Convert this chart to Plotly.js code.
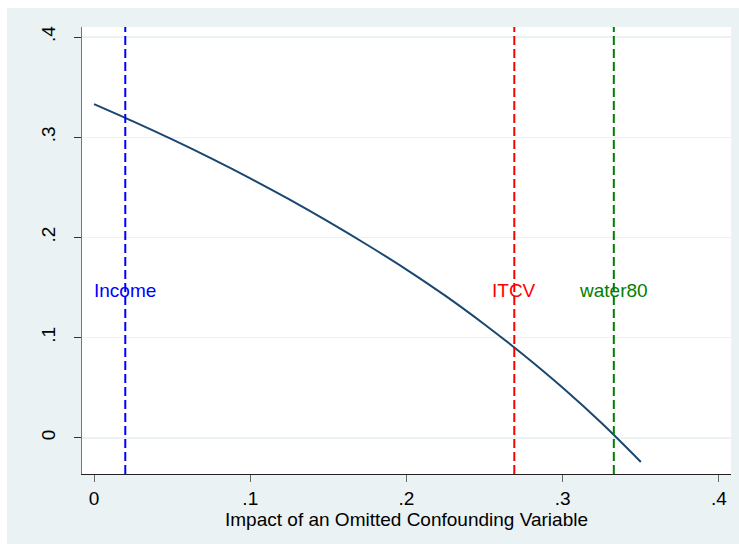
<!DOCTYPE html>
<html>
<head>
<meta charset="utf-8">
<script src="https://cdn.plot.ly/plotly-3.0.1.min.js"></script>
<style>
  html, body { margin: 0; padding: 0; background: #ffffff; }
  #chart { position: absolute; left: 7px; top: 8px; width: 732px; height: 536px; }
</style>
</head>
<body>
<div id="chart"></div>
<script>
// Curve: impact of an omitted confounding variable (x) vs. resulting value (y)
const curveX = [0, 0.025, 0.05, 0.075, 0.1, 0.125, 0.15, 0.175, 0.2, 0.225, 0.25, 0.275, 0.3, 0.325, 0.35];
const curveY = [0.333, 0.3158, 0.2978, 0.2789, 0.259, 0.238, 0.2158, 0.1925, 0.168, 0.1417, 0.1132, 0.0827, 0.050, 0.0146, -0.024];

// Reference lines
const refNames  = ["Income", "ITCV", "water80"];
const refX      = [0.02, 0.269, 0.3327];
const refColors = ["#0000ff", "#ff0000", "#008000"];
const refLabelY = [0.147, 0.147, 0.147];

// Ticks
const xTickVals = [0, 0.1, 0.2, 0.3, 0.4];
const xTickText = ["0", ".1", ".2", ".3", ".4"];
const yTickVals = [0, 0.1, 0.2, 0.3, 0.4];
const yTickText = ["0", ".1", ".2", ".3", ".4"];

const FONT = "'Liberation Sans', Arial, sans-serif";

const traces = [{
  x: curveX, y: curveY, type: 'scatter', mode: 'lines',
  line: { color: '#1a476f', width: 2, shape: 'spline', smoothing: 1 },
  hoverinfo: 'skip', showlegend: false
}];

const shapes = refX.map((xv, i) => ({
  type: 'line', xref: 'x', yref: 'paper', x0: xv, x1: xv, y0: 0, y1: 1,
  line: { color: refColors[i], width: 2, dash: '9px,4px' }, layer: 'above'
}));

const annotations = refNames.map((name, i) => ({
  x: refX[i], y: refLabelY[i], xref: 'x', yref: 'y', text: name,
  showarrow: false, xanchor: 'center', yanchor: 'middle',
  font: { family: FONT, size: 19, color: refColors[i] }
}));

const layout = {
  width: 732, height: 536,
  paper_bgcolor: '#eaf2f3', plot_bgcolor: '#ffffff',
  margin: { l: 75, r: 8, t: 19, b: 70 },
  font: { family: FONT, size: 19, color: '#000000' },
  showlegend: false,
  xaxis: {
    range: [-0.0077, 0.4077],
    tickvals: xTickVals, ticktext: xTickText,
    ticks: 'outside', ticklen: 7, tickwidth: 1, tickcolor: '#666666',
    showline: true, linecolor: '#222222', linewidth: 1.3,
    showgrid: false, zeroline: false,
    tickfont: { family: FONT, size: 19, color: '#000000' },
    ticklabelstandoff: 0,
    title: { text: 'Impact of an Omitted Confounding Variable', standoff: 0,
             font: { family: FONT, size: 19, color: '#000000' } }
  },
  yaxis: {
    range: [-0.036, 0.41],
    tickvals: yTickVals, ticktext: yTickText,
    ticks: 'outside', ticklen: 7, tickwidth: 1, tickcolor: '#333333',
    showline: true, linecolor: '#777777', linewidth: 1.5,
    showgrid: true, gridcolor: '#eaf2f3', gridwidth: 1.5,
    zeroline: false, tickangle: -90,
    tickfont: { family: FONT, size: 19, color: '#000000' },
    ticklabelstandoff: 11
  },
  shapes: shapes,
  annotations: annotations
};

Plotly.newPlot('chart', traces, layout, { displayModeBar: false, staticPlot: true });
</script>
</body>
</html>
